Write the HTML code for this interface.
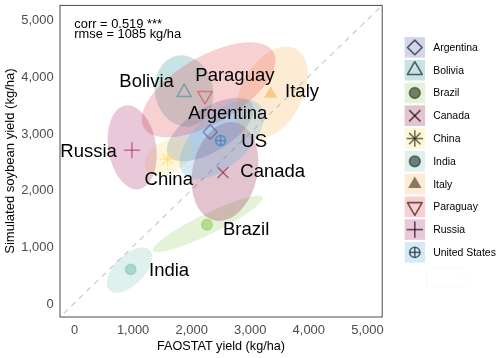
<!DOCTYPE html>
<html><head><meta charset="utf-8"><style>
html,body{margin:0;padding:0;background:#fff;}
body{width:500px;height:358px;overflow:hidden;position:relative;font-family:"Liberation Sans",sans-serif;}
svg{position:absolute;left:0;top:0;}
svg text{font-family:"Liberation Sans",sans-serif;}
.lg{font-size:10.45px;fill:#000;}
.tk{font-size:12.95px;fill:#4d4d4d;}
.ax{font-size:12.8px;fill:#000;}
.an{font-size:12.5px;fill:#000;}
.lb{font-size:18.5px;fill:#000;}
</style></head><body>
<svg width="500" height="358" viewBox="0 0 500 358">
<rect width="500" height="358" fill="#fff"/>
<line x1="60" y1="317" x2="382.2" y2="5.4" stroke="#c9c9c9" stroke-width="1.15" stroke-dasharray="5.5 5.075" stroke-dashoffset="5.285"/>
<ellipse cx="210.3" cy="129.6" rx="49.2" ry="22.0" transform="rotate(-31.5 210.3 129.6)" fill="rgb(71,91,163)" fill-opacity="0.25"/>
<ellipse cx="184.0" cy="91.0" rx="35.9" ry="29.1" transform="rotate(78.1 184.0 91.0)" fill="rgb(39,143,151)" fill-opacity="0.25"/>
<ellipse cx="207.8" cy="224.0" rx="61.0" ry="10.2" transform="rotate(-26.0 207.8 224.0)" fill="rgb(147,203,95)" fill-opacity="0.25"/>
<ellipse cx="225.0" cy="171.5" rx="50.1" ry="32.5" transform="rotate(-77.8 225.0 171.5)" fill="rgb(139,15,59)" fill-opacity="0.25"/>
<ellipse cx="169.0" cy="156.3" rx="26.4" ry="16.1" transform="rotate(-28.2 169.0 156.3)" fill="rgb(251,219,103)" fill-opacity="0.25"/>
<ellipse cx="129.5" cy="270.1" rx="28.5" ry="14.9" transform="rotate(-44.7 129.5 270.1)" fill="rgb(123,199,183)" fill-opacity="0.25"/>
<ellipse cx="271.9" cy="92.8" rx="50.0" ry="30.6" transform="rotate(-61.7 271.9 92.8)" fill="rgb(251,175,83)" fill-opacity="0.25"/>
<ellipse cx="208.6" cy="89.8" rx="75.0" ry="33.3" transform="rotate(-30.4 208.6 89.8)" fill="rgb(223,67,71)" fill-opacity="0.25"/>
<ellipse cx="132.2" cy="147.3" rx="42.4" ry="24.0" transform="rotate(80.9 132.2 147.3)" fill="rgb(167,35,103)" fill-opacity="0.25"/>
<ellipse cx="221.7" cy="139.3" rx="51.5" ry="26.6" transform="rotate(-42.0 221.7 139.3)" fill="rgb(83,175,223)" fill-opacity="0.25"/>
<path d="M210.2 124.9L217.299 132L210.2 139.1L203.1 132Z" stroke="rgb(71,91,163)" stroke-width="1.5" stroke-opacity="0.58" fill="none" stroke-linejoin="round"/>
<path d="M184.15 84.14L191.30 96.53L177.00 96.53Z" stroke="rgb(58,140,148)" stroke-width="1.5" stroke-opacity="0.58" fill="none" stroke-linejoin="round"/>
<circle cx="207" cy="224.8" r="5.2" fill="rgb(147,203,95)" fill-opacity="0.58" stroke="rgb(147,203,95)" stroke-width="1.5" stroke-opacity="0.58"/>
<path d="M217.55 167.05L228.45 177.95" stroke="rgb(139,15,59)" stroke-width="1.5" stroke-opacity="0.58" fill="none" stroke-linejoin="round"/><path d="M217.55 177.95L228.45 167.05" stroke="rgb(139,15,59)" stroke-width="1.5" stroke-opacity="0.58" fill="none" stroke-linejoin="round"/>
<path d="M159.75 159.1L175.649 159.1" stroke="rgb(251,219,103)" stroke-width="1.5" stroke-opacity="0.58" fill="none" stroke-linejoin="round"/><path d="M167.7 151.15L167.7 167.049" stroke="rgb(251,219,103)" stroke-width="1.5" stroke-opacity="0.58" fill="none" stroke-linejoin="round"/><path d="M162.2 153.6L173.2 164.6" stroke="rgb(251,219,103)" stroke-width="1.5" stroke-opacity="0.58" fill="none" stroke-linejoin="round"/><path d="M162.2 164.6L173.2 153.6" stroke="rgb(251,219,103)" stroke-width="1.5" stroke-opacity="0.58" fill="none" stroke-linejoin="round"/>
<circle cx="130.7" cy="269.4" r="5.2" fill="rgb(123,199,183)" fill-opacity="0.58" stroke="rgb(123,199,183)" stroke-width="1.5" stroke-opacity="0.58"/>
<path d="M270.6 86.32L277.25 97.84L263.95 97.84Z" fill="rgb(251,175,83)" fill-opacity="0.58"/>
<path d="M205 103.96L212.15 91.57L197.85 91.57Z" stroke="rgb(223,67,71)" stroke-width="1.5" stroke-opacity="0.58" fill="none" stroke-linejoin="round"/>
<path d="M123.95 150.2L139.85 150.2" stroke="rgb(167,35,103)" stroke-width="1.5" stroke-opacity="0.58" fill="none" stroke-linejoin="round"/><path d="M131.9 142.25L131.9 158.149" stroke="rgb(167,35,103)" stroke-width="1.5" stroke-opacity="0.58" fill="none" stroke-linejoin="round"/>
<circle cx="220.6" cy="140.6" r="5.0" stroke="rgb(30,125,195)" stroke-width="1.5" stroke-opacity="0.58" fill="none" stroke-linejoin="round"/><path d="M215.6 140.6L225.6 140.6" stroke="rgb(30,125,195)" stroke-width="1.5" stroke-opacity="0.58" fill="none" stroke-linejoin="round"/><path d="M220.6 135.6L220.6 145.6" stroke="rgb(30,125,195)" stroke-width="1.5" stroke-opacity="0.58" fill="none" stroke-linejoin="round"/>
<rect x="60" y="5.4" width="322.2" height="311.6" fill="none" stroke="#4a4a4a" stroke-width="1"/>
<rect x="404.6" y="37.10" width="20.5" height="20.6" fill="rgb(71,91,163)" fill-opacity="0.25"/>
<path d="M414.8 40.137L422.113 47.45L414.8 54.763L407.487 47.45Z" stroke="rgb(15,20,35)" stroke-width="1.6" stroke-opacity="0.68" fill="none" stroke-linejoin="round"/>
<text x="433.2" y="50.90" class="lg">Argentina</text>
<rect x="404.6" y="59.87" width="20.5" height="20.6" fill="rgb(39,143,151)" fill-opacity="0.25"/>
<path d="M414.8 61.72L422.16 74.47L407.44 74.47Z" stroke="rgb(8,31,33)" stroke-width="1.6" stroke-opacity="0.68" fill="none" stroke-linejoin="round"/>
<text x="433.2" y="73.67" class="lg">Bolivia</text>
<rect x="404.6" y="82.64" width="20.5" height="20.6" fill="rgb(147,203,95)" fill-opacity="0.25"/>
<circle cx="414.8" cy="92.99" r="5.356" fill="rgb(32,44,20)" fill-opacity="0.58" stroke="rgb(32,44,20)" stroke-width="1.6" stroke-opacity="0.58"/>
<text x="433.2" y="96.44" class="lg">Brazil</text>
<rect x="404.6" y="105.41" width="20.5" height="20.6" fill="rgb(139,15,59)" fill-opacity="0.25"/>
<path d="M409.186 110.146L420.413 121.373" stroke="rgb(30,3,12)" stroke-width="1.6" stroke-opacity="0.68" fill="none" stroke-linejoin="round"/><path d="M409.186 121.373L420.413 110.146" stroke="rgb(30,3,12)" stroke-width="1.6" stroke-opacity="0.68" fill="none" stroke-linejoin="round"/>
<text x="433.2" y="119.21" class="lg">Canada</text>
<rect x="404.6" y="128.18" width="20.5" height="20.6" fill="rgb(251,219,103)" fill-opacity="0.25"/>
<path d="M406.611 138.53L422.988 138.53" stroke="rgb(55,48,22)" stroke-width="1.6" stroke-opacity="0.68" fill="none" stroke-linejoin="round"/><path d="M414.8 130.341L414.8 146.718" stroke="rgb(55,48,22)" stroke-width="1.6" stroke-opacity="0.68" fill="none" stroke-linejoin="round"/><path d="M409.135 132.865L420.465 144.195" stroke="rgb(55,48,22)" stroke-width="1.6" stroke-opacity="0.68" fill="none" stroke-linejoin="round"/><path d="M409.135 144.195L420.465 132.865" stroke="rgb(55,48,22)" stroke-width="1.6" stroke-opacity="0.68" fill="none" stroke-linejoin="round"/>
<text x="433.2" y="141.98" class="lg">China</text>
<rect x="404.6" y="150.95" width="20.5" height="20.6" fill="rgb(123,199,183)" fill-opacity="0.25"/>
<circle cx="414.8" cy="161.3" r="5.356" fill="rgb(27,43,40)" fill-opacity="0.58" stroke="rgb(27,43,40)" stroke-width="1.6" stroke-opacity="0.58"/>
<text x="433.2" y="164.75" class="lg">India</text>
<rect x="404.6" y="173.72" width="20.5" height="20.6" fill="rgb(251,175,83)" fill-opacity="0.25"/>
<path d="M414.8 176.39L421.45 187.91L408.15 187.91Z" fill="rgb(55,38,18)" fill-opacity="0.58"/>
<text x="433.2" y="187.52" class="lg">Italy</text>
<rect x="404.6" y="196.49" width="20.5" height="20.6" fill="rgb(223,67,71)" fill-opacity="0.25"/>
<path d="M414.8 215.34L422.16 202.59L407.44 202.59Z" stroke="rgb(49,14,15)" stroke-width="1.6" stroke-opacity="0.68" fill="none" stroke-linejoin="round"/>
<text x="433.2" y="210.29" class="lg">Paraguay</text>
<rect x="404.6" y="219.26" width="20.5" height="20.6" fill="rgb(167,35,103)" fill-opacity="0.25"/>
<path d="M406.611 229.61L422.988 229.61" stroke="rgb(36,7,22)" stroke-width="1.6" stroke-opacity="0.68" fill="none" stroke-linejoin="round"/><path d="M414.8 221.421L414.8 237.798" stroke="rgb(36,7,22)" stroke-width="1.6" stroke-opacity="0.68" fill="none" stroke-linejoin="round"/>
<text x="433.2" y="233.06" class="lg">Russia</text>
<rect x="404.6" y="242.03" width="20.5" height="20.6" fill="rgb(83,175,223)" fill-opacity="0.25"/>
<circle cx="414.8" cy="252.38" r="5.15" stroke="rgb(18,38,49)" stroke-width="1.6" stroke-opacity="0.68" fill="none" stroke-linejoin="round"/><path d="M409.650 252.38L419.95 252.38" stroke="rgb(18,38,49)" stroke-width="1.6" stroke-opacity="0.68" fill="none" stroke-linejoin="round"/><path d="M414.8 247.23L414.8 257.53" stroke="rgb(18,38,49)" stroke-width="1.6" stroke-opacity="0.68" fill="none" stroke-linejoin="round"/>
<text x="433.2" y="255.83" class="lg">United States</text>
<rect x="426.5" y="268.5" width="37.5" height="18.5" fill="none" stroke="#f7f7f7" stroke-width="0.8"/>
<text x="74.6" y="333.7" text-anchor="middle" class="tk">0</text>
<text x="53.6" y="307.5" text-anchor="end" class="tk">0</text>
<text x="133.1" y="333.7" text-anchor="middle" class="tk">1,000</text>
<text x="53.6" y="250.8" text-anchor="end" class="tk">1,000</text>
<text x="191.7" y="333.7" text-anchor="middle" class="tk">2,000</text>
<text x="53.6" y="194.2" text-anchor="end" class="tk">2,000</text>
<text x="250.2" y="333.7" text-anchor="middle" class="tk">3,000</text>
<text x="53.6" y="137.5" text-anchor="end" class="tk">3,000</text>
<text x="308.8" y="333.7" text-anchor="middle" class="tk">4,000</text>
<text x="53.6" y="80.9" text-anchor="end" class="tk">4,000</text>
<text x="367.4" y="333.7" text-anchor="middle" class="tk">5,000</text>
<text x="53.6" y="24.2" text-anchor="end" class="tk">5,000</text>
<text x="157" y="350.2" textLength="128" lengthAdjust="spacingAndGlyphs" class="ax">FAOSTAT yield (kg/ha)</text>
<text transform="translate(14.1 253.8) rotate(-90)" textLength="185.5" lengthAdjust="spacingAndGlyphs" class="ax">Simulated soybean yield (kg/ha)</text>
<text x="74.3" y="28.3" textLength="87.8" lengthAdjust="spacingAndGlyphs" class="an">corr = 0.519 ***</text>
<text x="74.3" y="38.4" textLength="106.8" lengthAdjust="spacingAndGlyphs" class="an">rmse = 1085 kg/ha</text>
<text x="119.3" y="86.6" class="lb">Bolivia</text>
<text x="195.3" y="81" class="lb">Paraguay</text>
<text x="285.1" y="96.6" class="lb">Italy</text>
<text x="188.2" y="118.8" class="lb">Argentina</text>
<text x="241.3" y="146.7" class="lb">US</text>
<text x="240.3" y="177" class="lb">Canada</text>
<text x="144.6" y="184.5" class="lb">China</text>
<text x="60.3" y="156.7" class="lb">Russia</text>
<text x="223" y="235.3" class="lb">Brazil</text>
<text x="149" y="276.4" class="lb">India</text>
</svg>
</body></html>
